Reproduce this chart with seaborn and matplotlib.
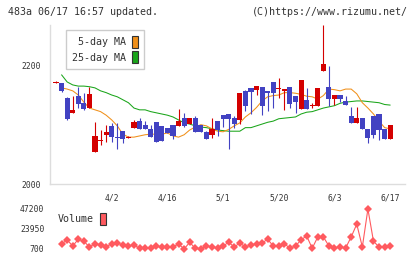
import matplotlib
matplotlib.use("Agg")
import matplotlib.pyplot as plt
from matplotlib.patches import Patch
import seaborn as sns
import numpy as np
import pandas as pd

# daily candles (61 sessions), prices in yen
opens = [2171, 2170, 2145, 2120, 2149, 2137, 2128, 2054, 2072, 2083,
         2098, 2078, 2089, 2077, 2095, 2106, 2100, 2093, 2105, 2098,
         2095, 2100, 2098, 2111, 2101, 2111, 2100, 2088, 2083, 2106,
         2116, 2118, 2111, 2108, 2157, 2162, 2159, 2164, 2157, 2172,
         2160, 2157, 2164, 2149, 2127, 2142, 2131, 2132, 2191, 2164,
         2143, 2150, 2140, 2115, 2103, 2111, 2093, 2115, 2118, 2093,
         2076]
highs = [2173, 2171, 2146, 2149, 2164, 2154, 2164, 2105, 2091, 2100,
         2103, 2103, 2089, 2081, 2108, 2111, 2106, 2100, 2105, 2098,
         2095, 2100, 2127, 2120, 2111, 2115, 2100, 2089, 2111, 2106,
         2116, 2118, 2115, 2154, 2159, 2162, 2165, 2164, 2157, 2172,
         2179, 2160, 2164, 2149, 2176, 2162, 2137, 2162, 2268, 2199,
         2150, 2150, 2149, 2130, 2130, 2111, 2093, 2115, 2118, 2093,
         2100]
lows = [2171, 2155, 2108, 2120, 2128, 2125, 2128, 2054, 2066, 2071,
        2071, 2059, 2069, 2077, 2095, 2093, 2093, 2079, 2071, 2073,
        2086, 2076, 2098, 2096, 2101, 2088, 2088, 2076, 2078, 2081,
        2096, 2059, 2095, 2101, 2123, 2118, 2150, 2116, 2123, 2128,
        2145, 2125, 2128, 2120, 2127, 2127, 2128, 2132, 2191, 2132,
        2133, 2138, 2133, 2103, 2103, 2093, 2069, 2078, 2074, 2076,
        2076]
closes = [2172, 2157, 2110, 2125, 2135, 2127, 2152, 2081, 2073, 2088,
          2079, 2077, 2076, 2078, 2105, 2093, 2093, 2079, 2071, 2073,
          2086, 2081, 2106, 2098, 2111, 2088, 2088, 2076, 2093, 2091,
          2110, 2110, 2101, 2154, 2132, 2155, 2165, 2132, 2154, 2154,
          2161, 2160, 2135, 2138, 2176, 2127, 2132, 2162, 2203, 2143,
          2150, 2143, 2133, 2103, 2111, 2093, 2078, 2083, 2091, 2076,
          2100]
nan = np.nan
ma5 = [nan, 2162, 2160, 2157, 2150, 2138, 2128, 2125, 2122, 2116,
       2108, 2098, 2084, 2079, 2079, 2081, 2083, 2084, 2084, 2084,
       2086, 2081, 2079, 2083, 2091, 2096, 2100, 2098, 2093, 2089,
       2088, 2092, 2098, 2103, 2113, 2120, 2129, 2140, 2147, 2149,
       2150, 2154, 2154, 2153, 2151, 2148, 2147, 2143, 2149, 2160,
       2159, 2157, 2160, 2160, 2152, 2137, 2128, 2118, 2106, 2095,
       2093]
ma25 = [nan, 2184, 2172, 2167, 2165, 2165, 2164, 2162, 2157, 2154,
        2150, 2147, 2142, 2137, 2128, 2125, 2125, 2122, 2120, 2118,
        2116, 2113, 2108, 2103, 2101, 2098, 2096, 2095, 2093, 2091,
        2090, 2089, 2089, 2089, 2095, 2095, 2098, 2101, 2104, 2106,
        2110, 2111, 2112, 2113, 2118, 2121, 2122, 2125, 2128, 2130,
        2132, 2136, 2138, 2139, 2140, 2140, 2139, 2138, 2137, 2134,
        2133]
volume = [nan, 6560, 11250, 4220, 12030, 9690, 3040, 6950, 5390, 3040,
          6950, 7730, 5390, 4220, 5390, 1480, 1480, 1480, 3830, 3040,
          3040, 3040, 6560, 700, 8520, 1480, 700, 4220, 3040, 1480,
          4220, 8520, 3040, 7730, 3040, 5390, 6950, 7730, 12030, 4220,
          4220, 6950, 1480, 4220, 11250, 15940, 1480, 14770, 14770, 4220,
          1870, 3040, 1870, 14770, 29620, 3040, 47200, 9690, 3040, 3040,
          4220]
date_labels = ['4/2', '4/16', '5/1', '5/20', '6/3', '6/17']
date_pos = [10, 20, 30, 40, 50, 60]
price_ticks = [2000, 2200]
vol_ticks = [700, 23950, 47200]

UP = '#d40000'
DOWN = '#4242c2'
MA5_C = '#f0901a'
MA25_C = '#1aa51a'
VOL_C = '#ff5a5f'
GRID = '#dddddd'
TXT = '#333333'
FS = 7.2

sns.set_theme(style="white")
plt.rcParams['font.family'] = ['DejaVu Sans Mono']

df = pd.DataFrame({'i': np.arange(len(opens)), 'open': opens, 'high': highs,
                   'low': lows, 'close': closes, 'ma5': ma5, 'ma25': ma25,
                   'volume': volume})

fig = plt.figure(figsize=(4.2, 2.59), dpi=100)
ax = fig.add_axes([50 / 420, 75 / 259, 355 / 420, 159 / 259])
vax = fig.add_axes([50 / 420, 6 / 259, 355 / 420, 48 / 259])
xlim = (-1.08, 62.66)

# moving averages
sns.lineplot(data=df, x='i', y='ma25', ax=ax, color=MA25_C, linewidth=0.75, zorder=2)
sns.lineplot(data=df, x='i', y='ma5', ax=ax, color=MA5_C, linewidth=0.75, zorder=2)

# candles
for r in df.itertuples():
    col = UP if r.close >= r.open else DOWN
    ax.vlines(r.i, r.low, r.high, color=col, linewidth=0.8, zorder=3)
    lo = min(r.open, r.close)
    h = max(abs(r.close - r.open), 1.7)
    ax.bar(r.i, h, bottom=lo, width=0.92, color=col, linewidth=0, zorder=4)

ax.set_xlim(*xlim)
ax.set_ylim(2000, 2268)
ax.set_xlabel('')
ax.set_ylabel('')
for s in ['top', 'right']:
    ax.spines[s].set_visible(False)
for s in ['left', 'bottom']:
    ax.spines[s].set_color(GRID)
    ax.spines[s].set_linewidth(1.0)
ax.set_yticks(price_ticks)
ax.set_yticklabels([str(t) for t in price_ticks])
ax.tick_params(axis='y', direction='inout', length=6.5, width=1.0, color=GRID,
               pad=3, labelsize=5.8, labelcolor=TXT)
ax.set_xticks(date_pos)
ax.set_xticklabels(date_labels)
ax.set_xticks(np.linspace(xlim[0], xlim[1], 12), minor=True)
ax.tick_params(axis='x', which='major', length=0, pad=7, labelsize=5.8, labelcolor=TXT)
ax.tick_params(axis='x', which='minor', direction='out', length=4.3, width=1.0, color=GRID)

# volume
sns.lineplot(data=df, x='i', y='volume', ax=vax, color=VOL_C, linewidth=0.8,
             marker='D', markersize=4.2, markeredgewidth=0, zorder=3)
vax.set_xlim(*xlim)
vax.set_ylim(-3950, 51850)
vax.set_xlabel('')
vax.set_ylabel('')
for s in vax.spines.values():
    s.set_visible(False)
vax.set_xticks([])
vax.set_yticks(vol_ticks)
vax.set_yticklabels([str(t) for t in vol_ticks])
vax.tick_params(axis='y', length=0, pad=4, labelsize=5.8, labelcolor=TXT)

# legends
ma_handles = [Patch(facecolor=MA5_C, edgecolor='#333333', linewidth=0.8),
              Patch(facecolor=MA25_C, edgecolor='#333333', linewidth=0.8)]
fig.legend(ma_handles, ['5-day MA', '25-day MA'], loc='upper left',
           bbox_to_anchor=(66 / 420, 1 - 30 / 259), markerfirst=False,
           frameon=True, fancybox=False, edgecolor='#cccccc', framealpha=1,
           fontsize=FS, handlelength=0.6, handleheight=1.5, labelspacing=0.3,
           handletextpad=0.6, borderpad=0.6, borderaxespad=0, labelcolor=TXT)
fig.legend([Patch(facecolor=VOL_C, edgecolor='#333333', linewidth=0.8)], ['Volume'],
           loc='upper left', bbox_to_anchor=(52 / 420, 1 - 207 / 259), markerfirst=False,
           frameon=False, fontsize=FS, handlelength=0.6, handleheight=1.5,
           handletextpad=0.6, borderpad=0.6, borderaxespad=0, labelcolor=TXT)

fig.text(8 / 420, 1 - 12 / 259, '483a 06/17 16:57 updated.', ha='left', va='center',
         fontsize=FS, color=TXT)
fig.text(408 / 420, 1 - 12 / 259, '(C)https://www.rizumu.net/', ha='right', va='center',
         fontsize=FS, color=TXT)

fig.savefig('out.png', dpi=100)
